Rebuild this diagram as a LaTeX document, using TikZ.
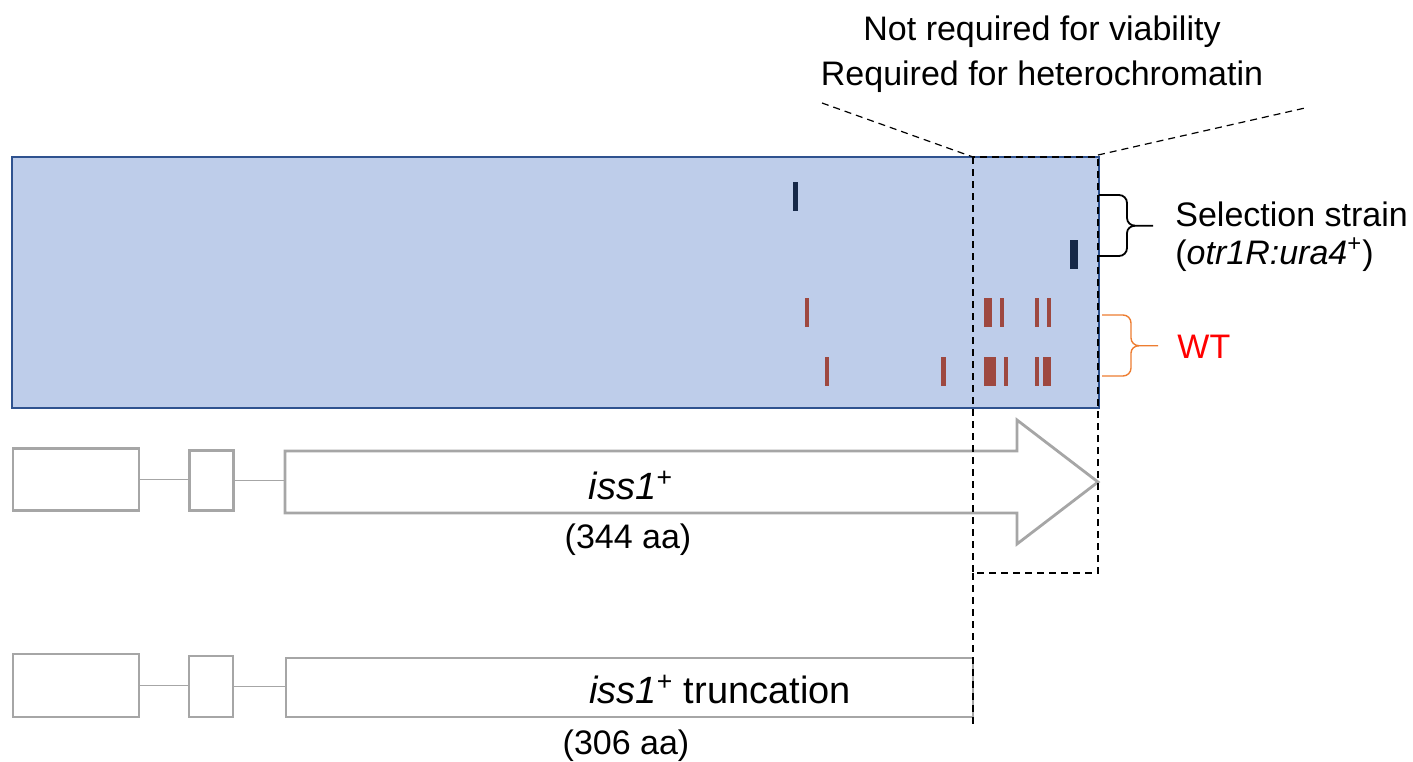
\documentclass[tikz,border=0pt]{standalone}
\usepackage{fontspec}
\setmainfont{Liberation Sans}
\definecolor{panelblue}{RGB}{190,205,234}
\definecolor{paneledge}{RGB}{47,82,143}
\definecolor{genegray}{RGB}{166,166,166}
\definecolor{hitnavy}{RGB}{22,40,72}
\definecolor{hitred}{RGB}{158,72,64}
\definecolor{wtorange}{RGB}{237,125,49}
\tikzset{
	exon/.style={draw=genegray, line width=1.2pt, fill=white, inner sep=0pt},
	intron/.style={genegray, line width=0.8pt},
	guide/.style={dash pattern=on 3.5pt off 2.5pt, line width=0.6pt},
	lbl/.style={font=\fontsize{17}{20}\selectfont, inner sep=0pt},
	genelbl/.style={font=\fontsize{19}{22}\selectfont, inner sep=0pt}
}
\begin{document}
\begin{tikzpicture}[x=0.5pt,y=0.5pt]
	\useasboundingbox (0,0) rectangle (1413,-761);
	% mutation panel
	\draw [draw=paneledge, fill=panelblue, line width=1.15pt] (12,-157) rectangle (1099,-408);
	\fill [hitnavy] (793,-182) rectangle (798,-211);
	\fill [hitnavy] (1070,-240) rectangle (1078,-269);
	\foreach \xa/\xb in {805/809, 984/992, 1000/1004, 1035/1039, 1047/1051}
		\fill [hitred] (\xa,-298) rectangle (\xb,-327);
	\foreach \xa/\xb in {825/829, 941/946, 984/996, 1004/1008, 1035/1039, 1043/1051}
		\fill [hitred] (\xa,-357) rectangle (\xb,-386);
	% full-length gene
	\node [exon, minimum width=63pt, minimum height=31pt] (exa) at (76,-479.5) {};
	\node [exon, minimum width=22pt, minimum height=30pt] (exb) at (211.3,-480.5) {};
	\coordinate (arrowbase) at (285,-482);
	\draw [intron] (exa.east) -- (exa.east -| exb.west);
	\draw [intron] (exb.east) -- (exb.east -| arrowbase);
	\draw [genegray, fill=white, line width=1.4pt, line join=miter] (285,-451) -- (1017,-451) -- (1017,-420)
		-- (1098,-482) -- (1017,-544) -- (1017,-513) -- (285,-513) -- cycle;
	\node [genelbl, anchor=base] (isslbl) at (631,-499) {\textit{iss1}\textsuperscript{+}};
	\node [lbl, anchor=base] (isslen) at (628,-548) {(344 aa)};
	% truncated gene
	\node [exon, minimum width=63pt, minimum height=31.5pt] (exc) at (76,-685.5) {};
	\node [exon, minimum width=22pt, minimum height=30.5pt] (exd) at (211,-686.5) {};
	\node [exon, minimum width=343.5pt, minimum height=29.5pt] (trunc) at (629.5,-687.5) {};
	\draw [intron] (exc.east) -- (exc.east -| exd.west);
	\draw [intron] (exd.east) -- (exd.east -| trunc.west);
	\node [genelbl, anchor=base] (trlbl) at (720,-703) {\textit{iss1}\textsuperscript{+} truncation};
	\node [lbl, anchor=base] (trlen) at (626,-754) {(306 aa)};
	% C-terminal region
	\coordinate (cutnw) at (973,-157);
	\coordinate (cutne) at (1098,-155);
	\draw [guide] (cutnw) rectangle (1098,-573);
	\draw [guide] (973,-573) -- (973,-725);
	\draw [guide] (822,-103) -- (cutnw);
	\draw [guide] (cutne) -- (1305,-108);
	\node [lbl, anchor=base] (notv) at (1042,-40) {Not required for viability};
	\node [lbl, anchor=base] (reqh) at (1042,-85) {Required for heterochromatin};
	% braces
	\draw [line width=0.9pt] (1099,-195) -- (1119,-195) to[out=0,in=90] (1127,-203) -- (1127,-218)
		to[out=-90,in=180] (1135,-225.7) -- (1153,-225.7);
	\draw [line width=0.9pt] (1099,-256) -- (1119,-256) to[out=0,in=-90] (1127,-248) -- (1127,-233)
		to[out=90,in=180] (1135,-225.7);
	\draw [wtorange, line width=0.7pt] (1102,-315) -- (1123,-315) to[out=0,in=90] (1131,-323) -- (1131,-338)
		to[out=-90,in=180] (1139,-345.7) -- (1158,-345.7);
	\draw [wtorange, line width=0.7pt] (1102,-376) -- (1123,-376) to[out=0,in=-90] (1131,-368) -- (1131,-353)
		to[out=90,in=180] (1139,-345.7);
	\node [lbl, anchor=base west] (sel) at (1175,-226) {Selection strain};
	\node [lbl, anchor=base west] (selsub) at (1175,-264) {(\textit{otr1R:ura4}\textsuperscript{+})};
	\node [lbl, anchor=base west, text={rgb,255:red,255;green,0;blue,0}] (wt) at (1177,-358) {WT};
\end{tikzpicture}
\end{document}
